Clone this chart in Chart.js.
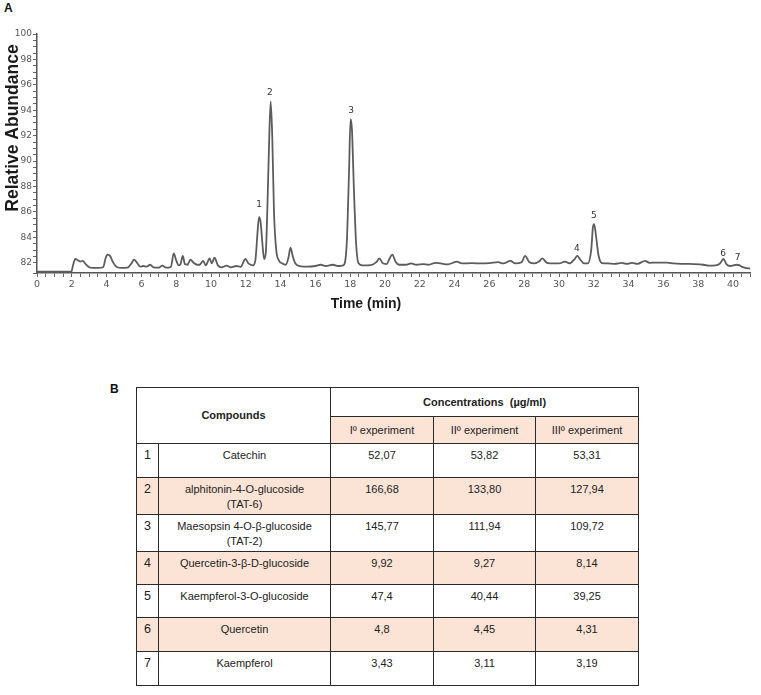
<!DOCTYPE html>
<html>
<head>
<meta charset="utf-8">
<script src="https://cdn.jsdelivr.net/npm/chart.js@4"></script>
<style>
body { margin:0; background:#fff; width:761px; height:695px; position:relative; overflow:hidden; font-family:"Liberation Sans", Arial, sans-serif; }
#chartBox { position:absolute; left:0; top:0; width:761px; height:320px; }
.panel { position:absolute; font:bold 12px "Liberation Sans", Arial, sans-serif; color:#111; }
#tbl { position:absolute; left:136px; top:387px; width:502px; border-collapse:collapse; table-layout:fixed; font-size:11px; color:#222; }
#tbl td, #tbl th { border:1.6px solid #2b2b2b; text-align:center; vertical-align:top; padding:4px 2px 0 2px; line-height:15px; overflow:hidden; }
#tbl th { font-weight:bold; vertical-align:middle; padding:0; }
#tbl .sub { font-weight:normal; background:#fbe4d5; }
#tbl .idx { font-size:12.5px; }
#tbl tr.alt td { background:#fbe4d5; }
</style>
</head>
<body>
<div class="panel" style="left:4px;top:1px;">A</div>
<div class="panel" style="left:110px;top:382px;">B</div>
<div id="chartBox"><canvas id="chart"></canvas></div>
<table id="tbl">
  <colgroup><col style="width:22px"><col style="width:172px"><col style="width:103px"><col style="width:102px"><col style="width:103px"></colgroup>
  <thead>
    <tr style="height:29px"><th colspan="2" rowspan="2">Compounds</th><th colspan="3">Concentrations&nbsp; (µg/ml)</th></tr>
    <tr style="height:27px" id="expRow"></tr>
  </thead>
  <tbody id="tbody"></tbody>
</table>
<script>
// chromatogram trace (time in min, relative abundance)
var times = [0, 1.98, 2.05, 2.2, 2.35, 2.5, 2.62, 2.8, 3.0, 3.2, 3.5, 3.8, 3.95, 4.05, 4.2, 4.35, 4.55, 4.8,
	5.2, 5.45, 5.58, 5.75, 5.95, 6.1, 6.3, 6.5, 6.7, 7.0, 7.2, 7.45, 7.7, 7.86, 8.0, 8.15, 8.25, 8.38, 8.5,
	8.65, 8.82, 9.0, 9.2, 9.35, 9.55, 9.7, 9.92, 10.05, 10.2, 10.4, 10.6, 10.9, 11.15, 11.45, 11.7, 11.98,
	12.15, 12.4, 12.55, 12.68, 12.76, 12.85, 12.95, 13.05, 13.15, 13.24, 13.34, 13.43, 13.52, 13.62, 13.75,
	13.9, 14.1, 14.3, 14.45, 14.57, 14.7, 14.85, 15.1, 15.5, 16.0, 16.3, 16.6, 17.0, 17.3, 17.6, 17.8, 17.93,
	18.02, 18.1, 18.22, 18.34, 18.47, 18.7, 19.2, 19.5, 19.68, 19.85, 20.1, 20.25, 20.42, 20.6, 20.8, 21.2,
	21.5, 21.8, 22.2, 22.5, 22.9, 23.2, 23.6, 24.15, 24.4, 25.0, 25.5, 26.0, 26.5, 26.8, 27.2, 27.5, 27.85,
	28.05, 28.3, 28.6, 28.85, 29.05, 29.3, 29.7, 30.0, 30.35, 30.6, 30.9, 31.05, 31.2, 31.45, 31.65, 31.85,
	31.95, 32.02, 32.12, 32.27, 32.47, 32.8, 33.2, 33.6, 33.9, 34.2, 34.5, 34.95, 35.2, 35.6, 36.2, 36.6,
	37.2, 37.8, 38.3, 38.6, 39.0, 39.25, 39.45, 39.62, 39.85, 40.2, 40.35, 40.5, 40.7, 41.0];
var abundance = [81.3, 81.3, 81.7, 82.3, 82.2, 82.1, 82.15, 81.9, 81.65, 81.6, 81.6, 81.65, 82.4, 82.65, 82.55, 82.1, 81.7, 81.6,
	81.62, 82.0, 82.25, 82.0, 81.7, 81.75, 81.7, 81.85, 81.65, 81.62, 81.78, 81.62, 81.7, 82.75, 82.2, 81.8, 81.9, 82.55, 81.9,
	81.85, 82.25, 82.0, 81.85, 81.85, 82.15, 81.8, 82.35, 81.95, 82.4, 81.8, 81.65, 81.78, 81.65, 81.75, 81.68, 82.3,
	81.95, 81.8, 82.2, 84.5, 85.6, 85.2, 83.6, 82.3, 82.8, 86.3, 91.5, 94.7, 92.0, 86.0, 83.0,
	82.2, 81.95, 81.85, 82.4, 83.2, 82.5, 81.95, 81.75, 81.7, 81.75, 81.85, 81.75, 81.85, 81.75, 81.8, 83.5, 89.0,
	93.3, 92.5, 87.5, 83.5, 82.0, 81.8, 81.82, 82.05, 82.35, 82.0, 81.9, 82.3, 82.65, 82.1, 81.85, 81.85,
	81.95, 81.85, 81.9, 81.85, 82.0, 81.95, 81.88, 82.1, 81.95, 81.97, 81.95, 81.97, 82.05, 81.95, 82.15, 81.95, 82.05,
	82.55, 82.05, 81.95, 82.1, 82.35, 82.0, 81.95, 81.95, 82.1, 81.95, 82.3, 82.55, 82.3, 81.95, 81.95, 83.0,
	84.8, 85.05, 84.2, 82.6, 81.98, 81.95, 81.92, 82.0, 81.92, 82.0, 81.92, 82.15, 82.0, 82.02, 82.02, 81.95,
	81.92, 81.9, 81.85, 81.78, 81.8, 81.95, 82.3, 81.9, 81.75, 81.85, 81.82, 81.7, 81.6, 81.55];

// peak numbers written over the trace
var peakNames = ['1', '2', '3', '4', '5', '6', '7'];
var peakTimes = [12.76, 13.39, 18.05, 31.03, 32.0, 39.43, 40.27];
var peakTops = [86.6, 95.35, 94.0, 83.1, 85.75, 82.7, 82.4];

// table B
var compounds = ['Catechin', 'alphitonin-4-O-glucoside<br>(TAT-6)', 'Maesopsin 4-O-β-glucoside<br>(TAT-2)',
	'Quercetin-3-β-D-glucoside', 'Kaempferol-3-O-glucoside', 'Quercetin', 'Kaempferol'];
var experiments = ['Iº experiment', 'IIº experiment', 'IIIº experiment'];
var exp1 = ['52,07', '166,68', '145,77', '9,92', '47,4', '4,8', '3,43'];
var exp2 = ['53,82', '133,80', '111,94', '9,27', '40,44', '4,45', '3,11'];
var exp3 = ['53,31', '127,94', '109,72', '8,14', '39,25', '4,31', '3,19'];
var rowHeights = [34, 37, 37, 33, 33, 34, 34];

function buildTable() {
	var head = document.getElementById('expRow');
	experiments.forEach(function (e) {
		var th = document.createElement('th');
		th.className = 'sub';
		th.textContent = e;
		head.appendChild(th);
	});
	var body = document.getElementById('tbody');
	compounds.forEach(function (c, i) {
		var tr = document.createElement('tr');
		if (i % 2 == 1) tr.className = 'alt';
		tr.style.height = rowHeights[i] + 'px';
		tr.innerHTML = '<td class="idx">' + (i + 1) + '</td><td>' + c + '</td><td>' + exp1[i] +
			'</td><td>' + exp2[i] + '</td><td>' + exp3[i] + '</td>';
		body.appendChild(tr);
	});
}

var extraText = {
	id: 'extraText',
	afterDraw: function (chart) {
		var ctx = chart.ctx, xs = chart.scales.x, ys = chart.scales.y;
		ctx.save();
		ctx.fillStyle = '#333';
		ctx.font = '9px "DejaVu Sans"';
		ctx.textAlign = 'center';
		ctx.textBaseline = 'middle';
		peakNames.forEach(function (n, i) {
			ctx.fillText(n, xs.getPixelForValue(peakTimes[i]), ys.getPixelForValue(peakTops[i]));
		});
		ctx.fillStyle = '#1a1a1a';
		ctx.font = 'bold 14px "Liberation Sans"';
		ctx.fillText('Time (min)', 366, 304);
		ctx.translate(13, 128);
		ctx.rotate(-Math.PI / 2);
		ctx.font = 'bold 17.5px "Liberation Sans"';
		ctx.fillText('Relative Abundance', 0, 0);
		ctx.restore();
	}
};

function drawChart() {
	var pts = times.map(function (t, i) { return {x: t, y: abundance[i]}; });
	new Chart(document.getElementById('chart'), {
		type: 'line',
		data: {
			datasets: [{
				data: pts,
				borderColor: '#5c5c5c',
				borderWidth: 1.8,
				pointRadius: 0,
				cubicInterpolationMode: 'monotone'
			}]
		},
		options: {
			animation: false,
			responsive: true,
			maintainAspectRatio: false,
			layout: {padding: {top: 34, right: 10.6, bottom: 7, left: 0}},
			plugins: {legend: {display: false}, tooltip: {enabled: false}},
			scales: {
				x: {
					type: 'linear', min: 0, max: 41,
					afterFit: function (s) { s.height = 40; },
					border: {color: '#555', width: 1.5},
					grid: {drawOnChartArea: false, tickLength: 4, color: '#666'},
					ticks: {
						stepSize: 0.5, autoSkip: false, maxRotation: 0, padding: 2,
						color: '#555', font: {family: 'DejaVu Sans', size: 9.5},
						callback: function (v) { return (v % 2 === 0 && v <= 40) ? v : ''; }
					}
				},
				y: {
					min: 81.2, max: 100,
					afterFit: function (s) { s.width = 37; },
					border: {color: '#555', width: 1.5},
					grid: {drawOnChartArea: false, tickLength: 4, color: '#666'},
					ticks: {
						stepSize: 0.5, autoSkip: false, padding: 1,
						color: '#555', font: {family: 'DejaVu Sans', size: 9},
						callback: function (v) { return (v % 2 === 0) ? v : ''; }
					}
				}
			}
		},
		plugins: [extraText]
	});
}

document.addEventListener('DOMContentLoaded', function () {
	buildTable();
	drawChart();
});
</script>
</body>
</html>
